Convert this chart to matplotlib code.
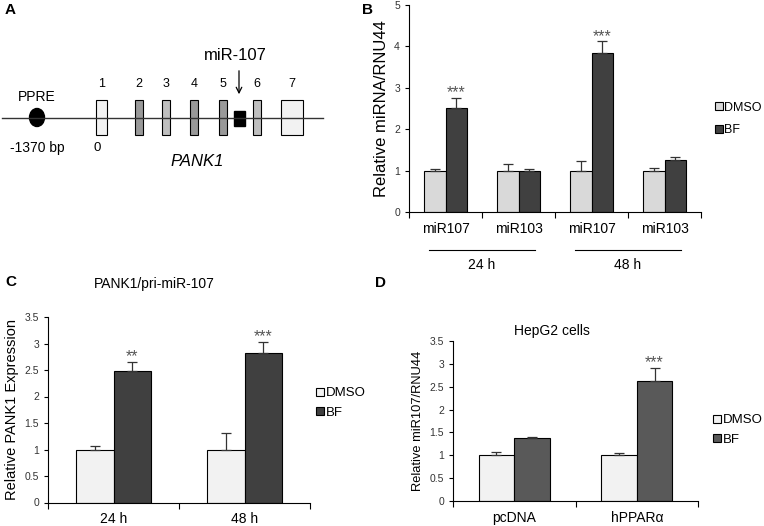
import numpy as np
import matplotlib
matplotlib.use("Agg")
import matplotlib.pyplot as plt
from matplotlib import patches, transforms

plt.rcParams['font.family'] = ['Liberation Sans', 'DejaVu Sans']

# ---- data ----
# panel B
b_labels = ["miR107", "miR103", "miR107", "miR103"]
b_groups = ["24 h", "48 h"]
b_dmso = [1.0, 1.0, 1.0, 1.0]
b_dmso_err = [0.03, 0.16, 0.23, 0.07]
b_bf = [2.5, 1.0, 3.85, 1.25]
b_bf_err = [0.26, 0.03, 0.27, 0.07]
b_stars = ["***", "", "***", ""]

# panel C
c_labels = ["24 h", "48 h"]
c_dmso = [1.0, 1.0]
c_dmso_err = [0.066, 0.305]
c_bf = [2.49, 2.83]
c_bf_err = [0.155, 0.2]
c_stars = ["**", "***"]

# panel D
d_labels = ["pcDNA", "hPPARα"]
d_dmso = [1.0, 1.0]
d_dmso_err = [0.07, 0.04]
d_bf = [1.38, 2.63]
d_bf_err = [0.03, 0.29]
d_stars = ["", "***"]

# panel A: exon positions (x, width, fill) and labels
exon_x = [96, 135, 162, 190, 219, 253, 281]
exon_w = [11, 8, 8, 8, 8, 8, 22]
exon_c = ["#f2f2f2", "#999999", "#bfbfbf", "#999999", "#999999", "#bfbfbf", "#f2f2f2"]
exon_names = ["1", "2", "3", "4", "5", "6", "7"]

fig = plt.figure(figsize=(7.64, 5.26), dpi=100)

# full-figure overlay in pixel units for panel A and panel letters
ov = fig.add_axes([0, 0, 1, 1])
ov.set_xlim(0, 764)
ov.set_ylim(526, 0)
ov.axis("off")

ov.plot([2, 323], [118, 118], color="#333333", lw=1)
ov.add_patch(patches.Ellipse((37, 117.5), 15, 18, color="black"))
ov.text(37, 97, "PPRE", ha="center", va="center", fontsize=10)
ov.text(37, 148, "-1370 bp", ha="center", va="center", fontsize=10)
for x, w, c, n in zip(exon_x, exon_w, exon_c, exon_names):
    ov.add_patch(patches.Rectangle((x, 100), w, 35, facecolor=c, edgecolor="black", lw=0.8))
    ov.text(x + w / 2, 84, n, ha="center", va="center", fontsize=9)
ov.add_patch(patches.Rectangle((234, 111), 11, 15, facecolor="black", edgecolor="black"))
ov.text(97, 148, "0", ha="center", va="center", fontsize=9.5)
ov.text(197, 162, "PANK1", ha="center", va="center", fontsize=12, style="italic")
ov.text(235, 56, "miR-107", ha="center", va="center", fontsize=12)
ov.annotate("", xy=(239, 97), xytext=(239, 68),
            arrowprops=dict(arrowstyle="->", color="black", lw=0.9))

for lbl, x, y in [("A", 5, 10), ("B", 362, 10), ("C", 5, 282), ("D", 375, 283)]:
    ov.text(x, y, lbl, fontsize=11, fontweight="bold", ha="left", va="center")


def bar_panel(ax, labels, dmso, dmso_err, bf, bf_err, stars, ymax, ystep,
              c_dmso, c_bf, ylabel, ylabel_size, width=0.29):
    x = np.arange(len(labels))
    ekw = dict(lw=0.9, capthick=0.9, capsize=3.5, ecolor="#333333")
    ax.bar(x - width / 2, dmso, width, color=c_dmso, edgecolor="black", lw=0.8,
           label="DMSO")
    ax.bar(x + width / 2, bf, width, color=c_bf, edgecolor="black", lw=0.8,
           label="BF")
    # upward-only error bars
    ax.errorbar(x - width / 2, dmso, yerr=[np.zeros(len(x)), dmso_err], fmt="none", **ekw)
    ax.errorbar(x + width / 2, bf, yerr=[np.zeros(len(x)), bf_err], fmt="none", **ekw)
    for xi, v, e, s in zip(x, bf, bf_err, stars):
        if s:
            ax.annotate(s, (xi + width / 2, v + e), xytext=(0, 0.5),
                        textcoords="offset points", ha="center", va="baseline",
                        fontsize=11.5, color="#555555")
    ax.set_xlim(-0.5, len(labels) - 0.5)
    ax.set_ylim(0, ymax)
    ticks = np.arange(0, ymax + 1e-9, ystep)
    ax.set_yticks(ticks)
    ax.set_yticklabels([f"{t:g}" for t in ticks])
    ax.set_xticks(x)
    ax.set_xticklabels(labels, fontsize=10)
    ax.set_xticks(np.arange(-0.5, len(labels)), minor=True)
    ax.tick_params(axis="x", which="major", length=0, pad=7)
    ax.tick_params(axis="x", which="minor", length=4, direction="out", width=0.8)
    ax.tick_params(axis="y", labelsize=7.5, length=3, width=0.8, labelcolor="#333333")
    ax.spines["top"].set_visible(False)
    ax.spines["right"].set_visible(False)
    ax.spines["left"].set_linewidth(0.8)
    ax.spines["bottom"].set_linewidth(0.8)
    ax.set_ylabel(ylabel, fontsize=ylabel_size, labelpad=4)
    return ax


def add_legend(ax, x_px, y_px, size=9.5, spacing=0.55):
    ax.legend(loc="center left", bbox_to_anchor=(x_px / 764, 1 - y_px / 526),
              bbox_transform=fig.transFigure, frameon=False, fontsize=size,
              handlelength=0.6, handleheight=0.6, handletextpad=0.12,
              labelspacing=spacing, borderpad=0, borderaxespad=0)


# panel B
axb = fig.add_axes([409 / 764, 1 - 212 / 526, 292 / 764, 207 / 526])
bar_panel(axb, b_labels, b_dmso, b_dmso_err, b_bf, b_bf_err, b_stars, 5, 1,
          "#d9d9d9", "#404040", "Relative miRNA/RNU44", 12)
trans = transforms.blended_transform_factory(axb.transData, axb.transAxes)
for i, g in enumerate(b_groups):
    x0, x1 = 2 * i - 0.22, 2 * i + 1.22
    axb.plot([x0, x1], [-0.184, -0.184], color="black", lw=0.8,
             transform=trans, clip_on=False)
    axb.text(2 * i + 0.5, -0.255, g, transform=trans, ha="center", va="center",
             fontsize=10)
add_legend(axb, 715, 119, size=9, spacing=0.85)

# panel C
axc = fig.add_axes([48 / 764, 1 - 502.5 / 526, 262 / 764, 185.5 / 526])
bar_panel(axc, c_labels, c_dmso, c_dmso_err, c_bf, c_bf_err, c_stars, 3.5, 0.5,
          "#f2f2f2", "#404040", "Relative PANK1 Expression", 10.5)
axc.text(0.405, (502.5 - 284) / 185.5, "PANK1/pri-miR-107", transform=axc.transAxes,
         ha="center", va="center", fontsize=10)
add_legend(axc, 316, 403)

# panel D
axd = fig.add_axes([453 / 764, 1 - 501 / 526, 245 / 764, 160 / 526])
bar_panel(axd, d_labels, d_dmso, d_dmso_err, d_bf, d_bf_err, d_stars, 3.5, 0.5,
          "#f2f2f2", "#595959", "Relative miR107/RNU44", 9.3)
axd.text(0.404, (501 - 331) / 160, "HepG2 cells", transform=axd.transAxes,
         ha="center", va="center", fontsize=10)
add_legend(axd, 713, 430)

fig.savefig("out.png", dpi=100)
